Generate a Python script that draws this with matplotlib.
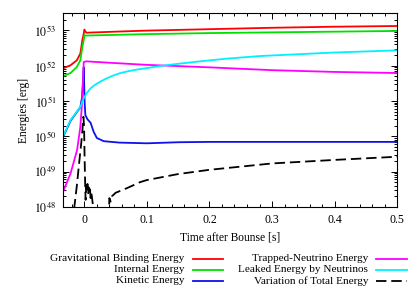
import matplotlib
matplotlib.use('Agg')
import matplotlib.pyplot as plt
import numpy as np
from matplotlib.lines import Line2D
from matplotlib.ticker import LogLocator, MultipleLocator, FuncFormatter, NullFormatter

plt.rcParams['font.family'] = ['Liberation Serif', 'DejaVu Serif']
plt.rcParams['mathtext.fontset'] = 'stix'
plt.rcParams['lines.scale_dashes'] = False

# time after bounce [s] and log10 of energies [erg]
t_bind = [-0.034, -0.022, -0.012, -0.0064, -0.0032, -0.001, 0.0, 0.003, 0.05, 0.1, 0.2, 0.3, 0.4, 0.5]
e_grav = [51.92, 52.01, 52.15, 52.34, 52.72, 52.9, 53.02, 52.93, 52.96, 52.99, 53.03, 53.07, 53.10, 53.12]
e_int = [51.70, 51.79, 51.96, 52.15, 52.53, 52.72, 52.86, 52.85, 52.87, 52.89, 52.92, 52.94, 52.96, 52.98]

t_kin = [-0.034, -0.022, -0.0064, -0.0037, -0.002, -0.001, 0.0005, 0.0016, 0.005, 0.01, 0.015,
         0.02, 0.031, 0.056, 0.1, 0.15, 0.2, 0.3, 0.4, 0.5]
e_kin = [49.98, 50.44, 50.82, 51.1, 51.6, 51.95, 50.95, 50.6, 50.48, 50.38, 50.12,
         49.95, 49.86, 49.82, 49.80, 49.83, 49.84, 49.84, 49.84, 49.84]

t_trap = [-0.034, -0.022, -0.0116, -0.0064, -0.0037, -0.0021, -0.001, 0.003, 0.05, 0.1, 0.2, 0.3, 0.4, 0.5]
e_trap = [48.43, 48.95, 49.61, 50.27, 50.93, 51.59, 52.1, 52.12, 52.07, 52.02, 51.95, 51.87, 51.82, 51.79]

t_leak = [-0.034, -0.022, -0.0064, -0.001, 0.003, 0.0096, 0.015, 0.0202, 0.028, 0.036, 0.045, 0.056,
          0.07, 0.085, 0.1, 0.126, 0.15, 0.185, 0.23, 0.281, 0.34, 0.4, 0.45, 0.5]
e_leak = [50.0, 50.46, 50.83, 51.07, 51.2, 51.35, 51.43, 51.49, 51.57, 51.64, 51.71, 51.78,
          51.84, 51.89, 51.93, 52.0, 52.05, 52.12, 52.2, 52.27, 52.32, 52.37, 52.40, 52.43]

t_var = [-0.0185, -0.016, -0.012, -0.008, -0.005, -0.003, -0.0015, -0.0005, 0.0005, 0.0015,
         0.002, 0.003, 0.004, 0.005, 0.006, 0.007, 0.008, 0.009, 0.010, 0.011, 0.012, 0.014, 0.016,
         0.039, 0.0395, 0.040, 0.042, 0.044, 0.047, 0.05, 0.068, 0.089, 0.1, 0.15, 0.2, 0.3, 0.4, 0.5]
e_var = [47.5, 48.0, 48.6, 49.3, 49.8, 50.2, 50.55, 50.3, 49.3, 48.5,
         48.2, 48.6, 48.45, 48.65, 48.35, 48.55, 48.4, 48.5, 48.25, 48.4, 48.3, 48.0, 47.5,
         47.0, 48.0, 48.25, 48.15, 48.3, 48.35, 48.4, 48.53, 48.7, 48.76, 48.93, 49.05, 49.23, 49.33, 49.42]

labels = ['Gravitational Binding Energy', 'Internal Energy', 'Kinetic Energy',
          'Trapped-Neutrino Energy', 'Leaked Energy by Neutrinos', 'Variation of Total Energy']
colors = ['#ff0000', '#00e000', '#1010e8', '#ff00ff', '#00f0ff', '#000000']

fig = plt.figure(figsize=(4.15, 2.91), dpi=100)
ax = fig.add_axes([0.152, 0.289, 0.805, 0.665])

series = [(t_bind, e_grav), (t_bind, e_int), (t_kin, e_kin), (t_trap, e_trap), (t_leak, e_leak), (t_var, e_var)]
handles = []
for i, (t, e) in enumerate(series):
    if i == 5:
        h, = ax.plot(t, 10 ** np.array(e), color=colors[i], lw=1.3, dashes=(7.5, 3.5))
    else:
        h, = ax.plot(t, 10 ** np.array(e), color=colors[i], lw=1.3)
    handles.append(h)

ax.set_yscale('log')
ax.set_xlim(-0.034, 0.5)
ax.set_ylim(1e48, 3e53)
ax.yaxis.set_major_locator(LogLocator(base=10, numticks=10))
ax.yaxis.set_minor_locator(LogLocator(base=10, subs=np.arange(2, 10), numticks=20))
ax.yaxis.set_major_formatter(FuncFormatter(lambda v, p: r'$10^{%d}$' % round(np.log10(v))))
ax.yaxis.set_minor_formatter(NullFormatter())
ax.xaxis.set_major_locator(MultipleLocator(0.1))
ax.xaxis.set_minor_locator(MultipleLocator(0.02))
ax.xaxis.set_major_formatter(FuncFormatter(lambda v, p: '%g' % round(v, 3)))
ax.tick_params(which='both', direction='in', top=True, right=True, labelsize=8.6, width=0.7)
ax.tick_params(which='major', length=4, pad=5)
ax.tick_params(which='minor', length=2)
for s in ax.spines.values():
    s.set_linewidth(0.8)

ax.set_xlabel('Time after Bounse [s]', fontsize=8.3, labelpad=4)
ax.set_ylabel('Energies [erg]', fontsize=8.3, labelpad=3)

# gnuplot-style key: right-aligned text with sample line on its right
rows = [0.110, 0.0722, 0.0344]
cols = [(184, 193, 223), (368, 376, 407)]
W = 415.0
for i, h in enumerate(handles):
    c = cols[i // 3]
    y = rows[i % 3]
    fig.text(c[0] / W, y, labels[i], ha='right', va='center', fontsize=8.1)
    ln = Line2D([c[1] / W, c[2] / W], [y, y], transform=fig.transFigure,
                color=h.get_color(), lw=1.3)
    if i == 5:
        ln.set_dashes((7.5, 3.5))
    fig.add_artist(ln)

fig.savefig('out.png', dpi=100)
